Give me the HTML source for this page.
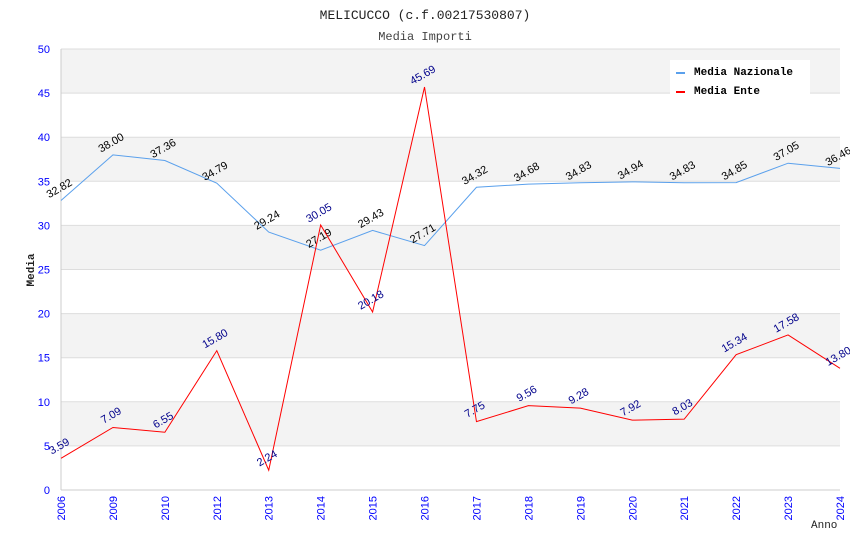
<!DOCTYPE html>
<html><head><meta charset="utf-8"><style>
body{margin:0;background:#fff;}
svg{display:block;}
</style></head><body>
<svg id="chart" width="850" height="550" xmlns="http://www.w3.org/2000/svg">
<text x="425" y="19" text-anchor="middle" font-family="Liberation Mono, monospace" font-size="13" fill="#222">MELICUCCO (c.f.00217530807)</text>
<text x="425" y="40" text-anchor="middle" font-family="Liberation Mono, monospace" font-size="12" fill="#444">Media Importi</text>
<g id="bands"></g>
<g id="axes"></g>
<g id="series"></g>
<text transform="translate(34,270) rotate(-90)" text-anchor="middle" font-family="Liberation Mono, monospace" font-size="11" font-weight="bold" fill="#222">Media</text>
<text x="811" y="528" font-family="Liberation Mono, monospace" font-size="11" fill="#222">Anno</text>
<g>
<rect x="670" y="60" width="140" height="36" fill="#fff"/>
<rect x="676" y="72" width="9" height="2" fill="#5aa0ec"/>
<text x="694" y="75" font-family="Liberation Mono, monospace" font-size="11" font-weight="bold" fill="#000">Media Nazionale</text>
<rect x="676" y="91" width="9" height="2" fill="#f00"/>
<text x="694" y="94" font-family="Liberation Mono, monospace" font-size="11" font-weight="bold" fill="#000">Media Ente</text>
</g>
</svg>
<script>
const categories=["2006","2009","2010","2012","2013","2014","2015","2016","2017","2018","2019","2020","2021","2022","2023","2024"];
const nazionale=[32.82,38.00,37.36,34.79,29.24,27.19,29.43,27.71,34.32,34.68,34.83,34.94,34.83,34.85,37.05,36.46];
const ente=[3.59,7.09,6.55,15.80,2.24,30.05,20.18,45.69,7.75,9.56,9.28,7.92,8.03,15.34,17.58,13.80];
const yTicks=[0,5,10,15,20,25,30,35,40,45,50];
const NS="http://www.w3.org/2000/svg";
const L=61,R=840,T=49,B=490,YMAX=50;
const x=i=>L+i*(R-L)/(categories.length-1);
const y=v=>B-v*(B-T)/YMAX;
function mk(tag,attrs,parent){const e=document.createElementNS(NS,tag);for(const k in attrs)e.setAttribute(k,attrs[k]);parent.appendChild(e);return e;}
const bands=document.getElementById('bands'),axes=document.getElementById('axes'),series=document.getElementById('series');
for(let i=0;i<yTicks.length-1;i++){
 const r=mk('rect',{x:L,y:y(yTicks[i+1]),width:R-L,height:y(yTicks[i])-y(yTicks[i+1]),fill:(i%2==1)?'#f3f3f3':'#fff'},bands);
 
 
}
yTicks.forEach(v=>{
 const l=mk('line',{x1:L,x2:R,y1:y(v),y2:y(v),stroke:'#ddd','stroke-width':1},axes);
 
 
 const t=mk('text',{x:L-11,y:y(v)+4,'text-anchor':'end','font-family':'Liberation Sans, sans-serif','font-size':11,fill:'#00f'},axes);
 t.textContent=v;
 
 
});
mk('line',{x1:L,x2:L,y1:T,y2:B,stroke:'#ccc'},axes);
mk('line',{x1:L,x2:R,y1:B,y2:B,stroke:'#ccc'},axes);
categories.forEach((c,i)=>{
 const t=mk('text',{transform:`translate(${x(i)+4},${B+6}) rotate(-90)`,'text-anchor':'end','font-family':'Liberation Sans, sans-serif','font-size':11,fill:'#00f'},axes);
 t.textContent=c;
 
 
});
function draw(vals,color,lblColor,name){
 const p=mk('polyline',{points:vals.map((v,i)=>x(i)+','+y(v)).join(' '),fill:'none',stroke:color,'stroke-width':1},series);
 
 
 vals.forEach((v,i)=>{
  const t=mk('text',{transform:`translate(${x(i)},${y(v)-9}) rotate(-30)`,'text-anchor':'middle','font-family':'Liberation Sans, sans-serif','font-size':11,fill:lblColor},series);
  t.textContent=v.toFixed(2);
  
  
 });
}
draw(nazionale,'#5aa0ec','#000','media-nazionale');
draw(ente,'#f00','#00008b','media-ente');
</script>
</body></html>
